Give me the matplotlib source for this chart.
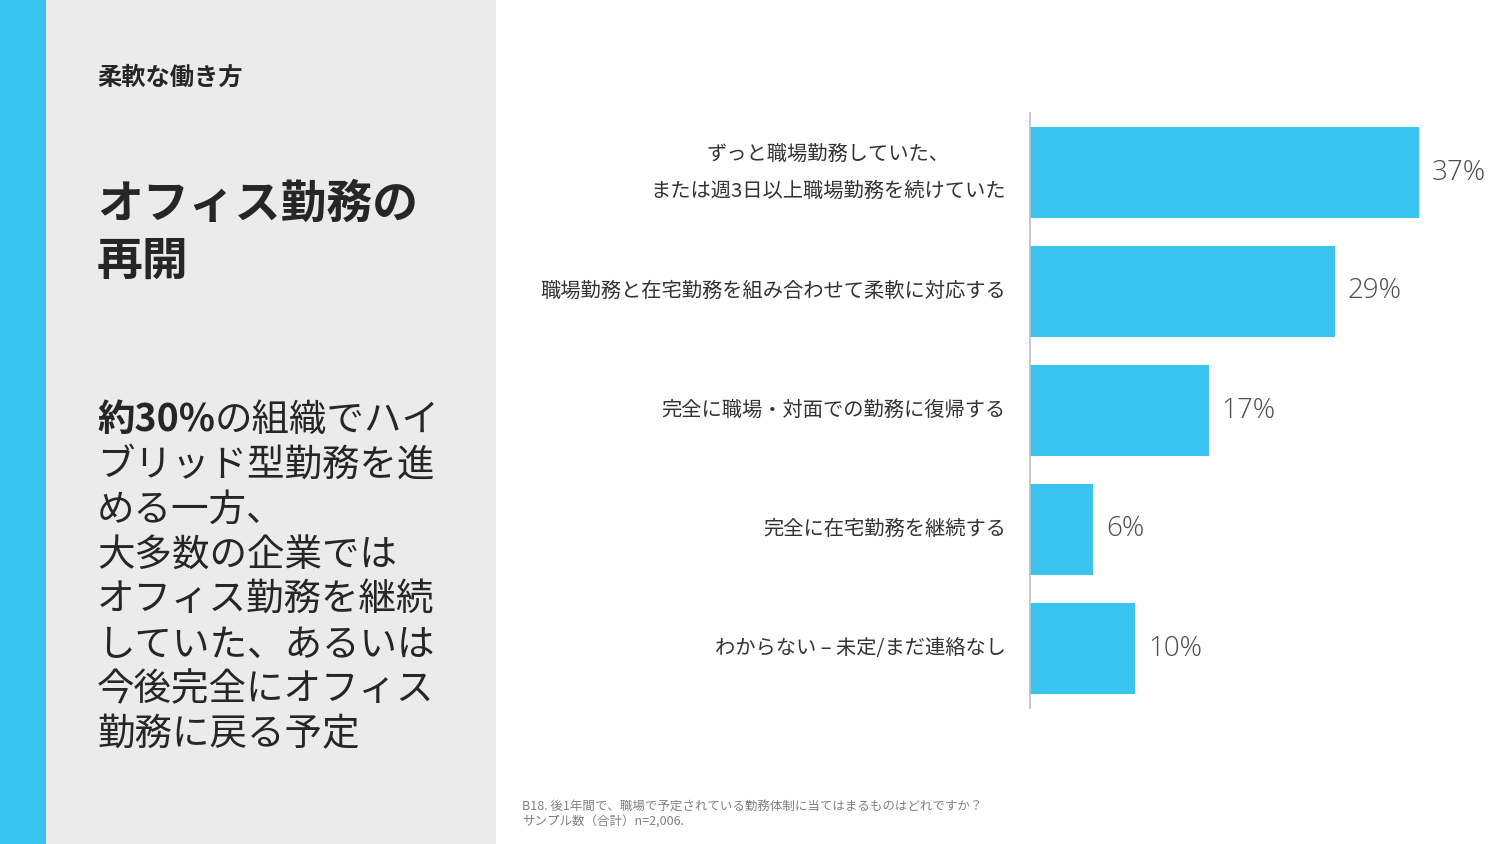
import matplotlib
matplotlib.use('Agg')
from matplotlib import pyplot as plt
from matplotlib.patches import Rectangle

plt.rcParams['font.family'] = ['Noto Sans CJK JP', 'DejaVu Sans']

categories = ['ずっと職場勤務していた、\nまたは週3日以上職場勤務を続けていた',
              '職場勤務と在宅勤務を組み合わせて柔軟に対応する',
              '完全に職場・対面での勤務に復帰する',
              '完全に在宅勤務を継続する',
              'わからない – 未定/まだ連絡なし']
values = [37, 29, 17, 6, 10]
value_labels = ['37%', '29%', '17%', '6%', '10%']

section = '柔軟な働き方'
title = 'オフィス勤務の\n再開'
body_bold = '約30%'
body_first = 'の組織でハイ'
body_rest = ['ブリッド型勤務を進', 'める一方、', '大多数の企業では', 'オフィス勤務を継続',
             'していた、あるいは', '今後完全にオフィス', '勤務に戻る予定']
footnote = 'B18. 後1年間で、職場で予定されている勤務体制に当てはまるものはどれですか？\nサンプル数（合計）n=2,006.'

blue = '#38C4EE'
W, H = 1500, 844
fig = plt.figure(figsize=(15, 8.44), dpi=100)

# background layer in pixel coordinates
bg = fig.add_axes([0, 0, 1, 1])
bg.set_xlim(0, W)
bg.set_ylim(H, 0)
bg.axis('off')
bg.add_patch(Rectangle((0, 0), 46, H, color=blue, lw=0))
bg.add_patch(Rectangle((46, 0), 450, H, color='#EBEBEB', lw=0))

bg.text(97, 78, section, fontsize=17.5, fontweight='bold', color='#262626', va='center')
bg.text(97, 233, title, fontsize=33, fontweight='bold', color='#262626', va='center', linespacing=1.3)

first = bg.text(97, 420, body_bold, fontsize=27, fontweight='bold', color='#262626', va='center')
bg.annotate(body_first, xy=(1, 0.5), xycoords=first, fontsize=27, color='#262626',
            va='center', ha='left')
for i, line in enumerate(body_rest):
    bg.text(97, 465 + 45 * i, line, fontsize=27, color='#262626', va='center')

bg.text(522, 814, footnote, fontsize=9, color='#808080', va='center', linespacing=1.3)

# bar chart
ax = fig.add_axes([1030 / W, 136 / H, 470 / W, 595 / H])
ax.patch.set_alpha(0)
y = range(len(values))
ax.barh(y, values, height=0.765, color=blue)
ax.set_xlim(0, 470 / 10.5)
ax.set_ylim(len(values) - 0.5, -0.5)
for s in ['top', 'right', 'bottom']:
    ax.spines[s].set_visible(False)
ax.spines['left'].set_color('#BFBFBF')
ax.spines['left'].set_linewidth(1.2)
ax.set_xticks([])
ax.set_yticks([])

for yi, cat in zip(y, categories):
    ax.annotate(cat, xy=(0, yi), xytext=(-24, 0), textcoords='offset pixels',
                va='center', ha='right', multialignment='center',
                fontsize=14.6, color='#333333', linespacing=2.0)

for yi, v, lab in zip(y, values, value_labels):
    ax.annotate(lab, xy=(v, yi), xytext=(13, 0), textcoords='offset pixels',
                va='center', ha='left', fontsize=20, color='#4D4D4D',
                family=['Open Sans', 'DejaVu Sans'], fontweight='light')

fig.savefig('out.png', dpi=100)
